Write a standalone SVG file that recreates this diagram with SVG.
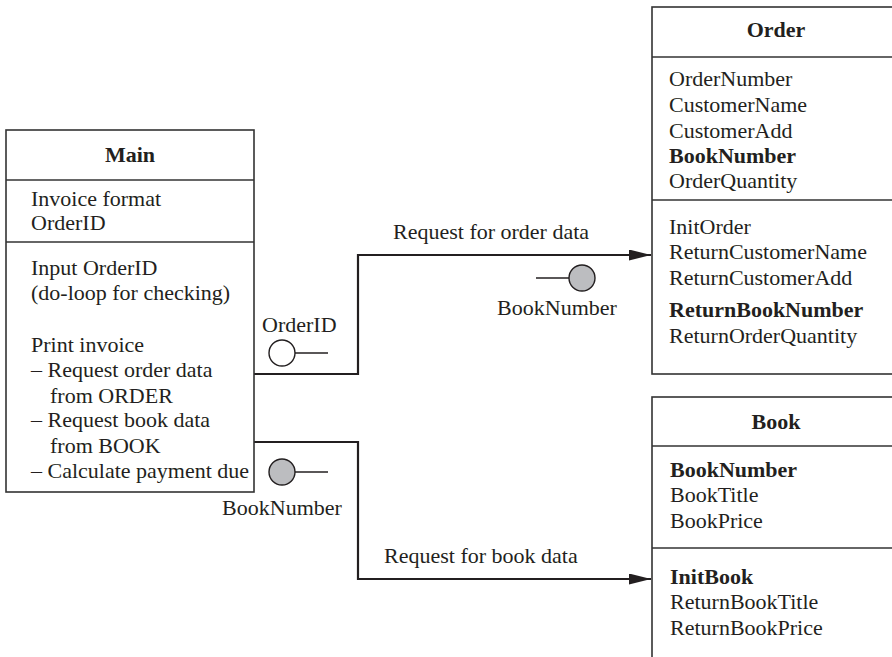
<svg xmlns="http://www.w3.org/2000/svg" width="892" height="657" viewBox="0 0 892 657">
<defs>
<style>
text{font-family:"Liberation Serif","Times New Roman",serif;font-size:22px;fill:#231f20}
.b{font-weight:bold}
.box{fill:#fff;stroke:#333;stroke-width:1.6}
.div{stroke:#333;stroke-width:1.6}
.conn{fill:none;stroke:#231f20;stroke-width:2.2}
.stick{stroke:#231f20;stroke-width:1.4}
.open{fill:#fff;stroke:#231f20;stroke-width:1.4}
.full{fill:#bcbdc0;stroke:#231f20;stroke-width:1.4}
</style>
<marker id="arr" markerUnits="userSpaceOnUse" markerWidth="24" markerHeight="12" refX="22" refY="5.5" orient="auto">
<path d="M0,0 L22,5.5 L0,11 Z" fill="#231f20"/>
</marker>
</defs>
<rect width="892" height="657" fill="#fff"/>

<g id="connectors">
<polyline class="conn" points="254,374 358,374 358,255 651,255" marker-end="url(#arr)"/>
<polyline class="conn" points="254,442 358,442 358,579 651,579" marker-end="url(#arr)"/>
<text x="393" y="239">Request for order data</text>
<text x="384" y="563">Request for book data</text>
<line class="stick" x1="295" y1="353" x2="328" y2="353"/>
<circle class="open" cx="282" cy="353" r="13"/>
<text x="262" y="332">OrderID</text>
<line class="stick" x1="295" y1="472" x2="328" y2="472"/>
<circle class="full" cx="282" cy="472" r="13"/>
<text x="282" y="515" text-anchor="middle">BookNumber</text>
<line class="stick" x1="536" y1="278" x2="569" y2="278"/>
<circle class="full" cx="582" cy="278" r="13"/>
<text x="557" y="315" text-anchor="middle">BookNumber</text>
</g>

<g id="main">
<rect class="box" x="6" y="130" width="248" height="362"/>
<line class="div" x1="6" y1="180" x2="254" y2="180"/>
<line class="div" x1="6" y1="242" x2="254" y2="242"/>
<text class="b" x="130" y="162" text-anchor="middle">Main</text>
<text x="31" y="206">Invoice format</text>
<text x="31" y="230">OrderID</text>
<text x="31" y="275">Input OrderID</text>
<text x="31" y="300">(do-loop for checking)</text>
<text x="31" y="352">Print invoice</text>
<text x="31" y="377">– Request order data</text>
<text x="50" y="403">from ORDER</text>
<text x="31" y="427">– Request book data</text>
<text x="50" y="453">from BOOK</text>
<text x="31" y="478">– Calculate payment due</text>
</g>

<g id="order">
<rect class="box" x="652" y="7" width="260" height="367"/>
<line class="div" x1="652" y1="57" x2="892" y2="57"/>
<line class="div" x1="652" y1="200" x2="892" y2="200"/>
<text class="b" x="776" y="37" text-anchor="middle">Order</text>
<text x="669" y="86">OrderNumber</text>
<text x="669" y="112">CustomerName</text>
<text x="669" y="138">CustomerAdd</text>
<text class="b" x="669" y="163">BookNumber</text>
<text x="669" y="188">OrderQuantity</text>
<text x="669" y="234">InitOrder</text>
<text x="669" y="259">ReturnCustomerName</text>
<text x="669" y="285">ReturnCustomerAdd</text>
<text class="b" x="669" y="317">ReturnBookNumber</text>
<text x="669" y="343">ReturnOrderQuantity</text>
</g>

<g id="book">
<rect class="box" x="652" y="397" width="260" height="280"/>
<line class="div" x1="652" y1="446" x2="892" y2="446"/>
<line class="div" x1="652" y1="548" x2="892" y2="548"/>
<text class="b" x="776" y="429" text-anchor="middle">Book</text>
<text class="b" x="670" y="477">BookNumber</text>
<text x="670" y="502">BookTitle</text>
<text x="670" y="528">BookPrice</text>
<text class="b" x="670" y="584">InitBook</text>
<text x="670" y="609">ReturnBookTitle</text>
<text x="670" y="635">ReturnBookPrice</text>
</g>
</svg>
